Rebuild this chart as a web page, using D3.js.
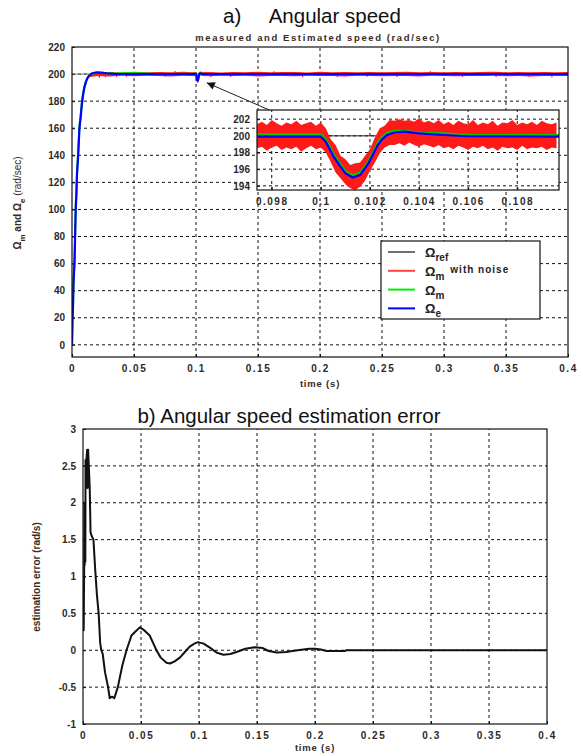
<!DOCTYPE html>
<html>
<head>
<meta charset="utf-8">
<script src="https://cdn.jsdelivr.net/npm/d3@7"></script>
<style>
  body { margin: 0; background: #fff; }
  text { font-family: "Liberation Sans", Arial, sans-serif; }
</style>
</head>
<body>
<div id="chart"></div>
<script>
// ---- data ----
const xTicksMain = [0, 0.05, 0.1, 0.15, 0.2, 0.25, 0.3, 0.35, 0.4]
const yTicksMain = [0, 20, 40, 60, 80, 100, 120, 140, 160, 180, 200, 220]
const insetXTicks = [0.098, 0.1, 0.102, 0.104, 0.106, 0.108]
const insetYTicks = [194, 196, 198, 200, 202]
const errYTicks = [-1, -0.5, 0, 0.5, 1, 1.5, 2, 2.5, 3]

// reference speed
const refT = [0, 0.4]
const refV = [200, 200]

// start-up (rise) of the speeds
const riseT = [0, 0.0004, 0.0008, 0.0012, 0.0016, 0.002, 0.0025, 0.003, 0.0035, 0.004, 0.005, 0.006, 0.007, 0.008, 0.009, 0.010, 0.011, 0.012, 0.013, 0.014, 0.016, 0.018, 0.020, 0.024, 0.028, 0.034, 0.045, 0.055, 0.07, 0.0974]
const riseBlue = [0, 18, 28, 45, 53, 60, 80, 100, 110, 125, 140, 160, 168, 178, 185, 190, 193.5, 196, 197.8, 199, 200.5, 201, 201.2, 201, 200.6, 200.2, 200, 200, 200, 199.9]
const riseGreen = [0, 20, 29, 47, 54, 62, 80, 104, 112, 128, 143, 162, 170, 180, 186, 191, 194, 196.5, 198, 199.2, 200.2, 200.6, 200.8, 200.8, 200.7, 200.5, 200.8, 200.7, 200.1, 200.2]

// load disturbance at t = 0.1 (shown in the zoom)
const dipT = [0.0974, 0.1000, 0.1002, 0.1005, 0.1008, 0.1010, 0.1013, 0.1016, 0.1019, 0.1021, 0.1023, 0.1025, 0.1027, 0.1030, 0.1034, 0.1040, 0.1050, 0.1060, 0.1097]
const dipBlue = [199.9, 199.9, 199.3, 197.6, 196.3, 195.5, 195.0, 195.3, 196.5, 197.6, 198.8, 199.6, 200.1, 200.4, 200.5, 200.3, 200.1, 199.95, 199.9]
const dipGreen = [200.2, 200.2, 199.6, 197.9, 196.6, 195.8, 195.3, 195.6, 196.8, 197.9, 199.1, 199.9, 200.4, 200.6, 200.6, 200.4, 200.3, 200.1, 200.1]

const tailT = [0.1097, 0.2, 0.3, 0.4]
const tailBlue = [199.9, 200, 200, 200]
const tailGreen = [200.1, 200.1, 200.1, 200.1]

// noisy measured speed: band edges in the zoom window
const noiseT = [0.0974, 0.0976, 0.0978, 0.0980, 0.0982, 0.0984, 0.0986, 0.0988, 0.0990, 0.0992, 0.0994, 0.0996, 0.0998, 0.1000,
  0.1002, 0.1004, 0.1006, 0.1008, 0.1010, 0.1012, 0.1014, 0.1016, 0.1018, 0.1020, 0.1022, 0.1024, 0.1026, 0.1028, 0.1030,
  0.1032, 0.1034, 0.1036, 0.1038, 0.1040, 0.1042, 0.1044, 0.1046, 0.1048, 0.1050, 0.1052, 0.1054, 0.1056, 0.1058, 0.1060,
  0.1062, 0.1064, 0.1066, 0.1068, 0.1070, 0.1072, 0.1074, 0.1076, 0.1078, 0.1080, 0.1082, 0.1084, 0.1086, 0.1088, 0.1090,
  0.1092, 0.1094, 0.1096]
const noiseHi = [201.4, 201.7, 201.3, 201.9, 201.5, 201.2, 201.6, 201.4, 201.8, 201.3, 201.5, 201.7, 201.2, 201.6,
  200.9, 199.6, 198.9, 197.6, 197.2, 196.5, 196.7, 196.8, 197.6, 198.4, 199.8, 200.9, 201.2, 201.9, 201.8,
  202.0, 201.8, 201.9, 201.7, 202.1, 201.6, 201.8, 201.5, 201.9, 201.4, 201.7, 201.3, 201.8, 201.5, 201.4,
  201.9, 201.3, 201.6, 201.4, 201.8, 201.2, 201.6, 201.5, 201.9, 201.3, 201.6, 201.4, 201.7, 201.3, 201.8,
  201.5, 201.4, 201.6]
const noiseLo = [198.5, 198.7, 198.2, 198.6, 198.8, 198.3, 198.6, 198.4, 198.7, 198.1, 198.5, 198.8, 198.4, 198.6,
  198.0, 196.9, 195.6, 194.9, 194.2, 193.7, 193.5, 193.9, 194.6, 195.8, 196.8, 197.9, 198.6, 198.9, 198.9,
  199.1, 198.8, 199.2, 198.9, 198.7, 199.0, 198.8, 198.6, 198.9, 198.5, 198.7, 198.4, 198.8, 198.6, 198.3,
  198.7, 198.5, 198.8, 198.4, 198.6, 198.2, 198.7, 198.5, 198.6, 198.3, 198.8, 198.4, 198.6, 198.5, 198.7,
  198.3, 198.6, 198.5]

// noisy measured speed: coarse band over the whole run
const bandT = [0.013, 0.02, 0.03, 0.04, 0.05, 0.06, 0.07, 0.08, 0.09, 0.097, 0.11, 0.12, 0.13, 0.14, 0.15, 0.16, 0.17, 0.18, 0.19, 0.20,
  0.21, 0.22, 0.23, 0.24, 0.25, 0.26, 0.27, 0.28, 0.29, 0.30, 0.31, 0.32, 0.33, 0.34, 0.35, 0.36, 0.37, 0.38, 0.39, 0.40]
const bandHi = [199.5, 201.3, 201.6, 201.2, 201.8, 201.4, 201.5, 201.3, 201.7, 201.4, 201.5, 201.2, 201.6, 201.4, 201.7, 201.3, 201.5, 201.6, 201.2, 201.8,
  201.4, 201.5, 201.3, 201.6, 201.4, 201.5, 201.7, 201.3, 201.5, 201.4, 201.6, 201.3, 201.5, 201.8, 201.4, 201.5, 201.3, 201.6, 201.4, 201.5]
const bandLo = [197.5, 198.6, 198.2, 198.7, 198.4, 198.8, 198.5, 198.3, 198.7, 198.6, 198.4, 198.7, 198.5, 198.8, 198.3, 198.6, 198.5, 198.4, 198.7, 198.5,
  198.6, 198.3, 198.7, 198.5, 198.4, 198.6, 198.5, 198.3, 198.7, 198.5, 198.4, 198.6, 198.5, 198.7, 198.4, 198.6, 198.3, 198.5, 198.6, 198.5]
const spikeT = [0.022, 0.027, 0.036, 0.044, 0.075, 0.083, 0.112, 0.128, 0.163, 0.186, 0.214, 0.238, 0.262, 0.289, 0.315, 0.342, 0.368, 0.387]
const spikeV = [197.2, 197.6, 197.8, 197.9, 198.0, 202.2, 197.8, 197.9, 202.0, 197.7, 197.9, 198.0, 197.8, 202.1, 197.9, 197.8, 198.0, 197.7]

// estimation error
const errT = [0, 0.0006, 0.0010, 0.0012, 0.0014, 0.0017, 0.0020, 0.0022, 0.0026, 0.0030, 0.0036, 0.0040, 0.0044, 0.0050, 0.0058, 0.0065, 0.0075,
  0.0090, 0.0105, 0.0120, 0.0135, 0.0148, 0.0158, 0.0170, 0.0190, 0.0216, 0.0230, 0.0250, 0.0270, 0.0300, 0.0340, 0.0375, 0.0418, 0.0450,
  0.0490, 0.0520, 0.0575, 0.0610, 0.0633, 0.0670, 0.0720, 0.0750, 0.0790, 0.0835, 0.0880, 0.0920, 0.0960, 0.0990, 0.1040, 0.1100, 0.1150,
  0.1210, 0.1270, 0.1330, 0.1400, 0.1480, 0.1550, 0.1600, 0.1670, 0.1750, 0.1850, 0.1950, 0.2000, 0.2050, 0.2100, 0.2260, 0.2265, 0.4000]
const errV = [0.27, 0.27, 1.1, 2.0, 1.15, 2.0, 1.2, 2.58, 2.2, 2.6, 2.72, 2.2, 2.72, 2.5, 2.2, 1.6, 1.55,
  1.5, 1.1, 0.75, 0.5, 0.1, 0, -0.05, -0.3, -0.5, -0.65, -0.63, -0.65, -0.5, -0.2, 0, 0.2, 0.25,
  0.31, 0.28, 0.2, 0.08, 0, -0.1, -0.17, -0.18, -0.15, -0.1, -0.02, 0.05, 0.09, 0.11, 0.09, 0.03, -0.03,
  -0.06, -0.05, -0.02, 0.02, 0.04, 0.03, -0.01, -0.03, -0.025, 0, 0.02, 0.02, 0.01, -0.01, -0.01, 0, 0]

const legendNames = ['ref', 'm', 'm', 'e']
const legendExtra = ['', 'with noise', '', '']
const legendColors = ['#707070', '#ff4040', '#00ee00', '#0000ff']

// ---- layout ----
const width = 583
const height = 756
const tickColor = '#2a2a2a'

const svg = d3.select('#chart').append('svg')
  .attr('width', width)
  .attr('height', height)

const defs = svg.append('defs')

const zip = (t, v) => t.map((d, i) => [d, v[i]])

// framed axes with dashed grid, MATLAB style
function frame(g, x, y, xt, yt, id, fs) {
  const [x0, x1] = x.range()
  const [y0, y1] = y.range()   // y0 bottom, y1 top
  g.append('rect')
    .attr('x', x0).attr('y', y1)
    .attr('width', x1 - x0).attr('height', y0 - y1)
    .attr('fill', '#fff')

  defs.append('clipPath').attr('id', id)
    .append('rect')
    .attr('x', x0).attr('y', y1)
    .attr('width', x1 - x0).attr('height', y0 - y1)

  const grid = g.append('g').attr('stroke', '#111').attr('stroke-width', 1).attr('stroke-dasharray', '3,3')
  grid.selectAll('.gx').data(xt.filter(d => x(d) > x0 + 1 && x(d) < x1 - 1)).join('line')
    .attr('x1', d => x(d)).attr('x2', d => x(d))
    .attr('y1', y0).attr('y2', y1)
  grid.selectAll('.gy').data(yt.filter(d => y(d) < y0 - 1 && y(d) > y1 + 1)).join('line')
    .attr('y1', d => y(d)).attr('y2', d => y(d))
    .attr('x1', x0).attr('x2', x1)

  const fmt = d => String(+d.toFixed(3))
  const ax = g.append('g')
    .attr('transform', `translate(0,${y0})`)
    .call(d3.axisBottom(x).tickValues(xt).tickFormat(fmt).tickSize(-3).tickSizeOuter(0).tickPadding(8))
  const ay = g.append('g')
    .attr('transform', `translate(${x0},0)`)
    .call(d3.axisLeft(y).tickValues(yt).tickFormat(fmt).tickSize(-3).tickSizeOuter(0).tickPadding(7))
  for (const a of [ax, ay]) {
    a.select('.domain').remove()
    a.selectAll('line').attr('stroke', '#111')
    a.selectAll('text')
      .attr('fill', tickColor)
      .attr('font-size', fs)
      .attr('font-weight', 'bold')
      .attr('font-family', '"Liberation Sans", Arial, sans-serif')
  }
  ax.selectAll('text').attr('letter-spacing', '1.5px')
  return g
}

function border(g, x, y) {
  const [x0, x1] = x.range()
  const [y0, y1] = y.range()
  g.append('rect')
    .attr('x', x0).attr('y', y1)
    .attr('width', x1 - x0).attr('height', y0 - y1)
    .attr('fill', 'none').attr('stroke', '#111').attr('stroke-width', 1.2)
}

// ================= a) angular speed =================
svg.append('text')
  .attr('x', 312).attr('y', 23)
  .attr('text-anchor', 'middle')
  .attr('font-size', 20.5)
  .attr('fill', '#111')
  .attr('xml:space', 'preserve')
  .text('a)     Angular speed')

svg.append('text')
  .attr('x', 318).attr('y', 41)
  .attr('text-anchor', 'middle')
  .attr('font-size', 9.5)
  .attr('font-weight', 'bold')
  .attr('letter-spacing', '1.6px')
  .attr('fill', '#3a2a22')
  .text('measured and Estimated speed (rad/sec)')

const xA = d3.scaleLinear([0, 0.4], [72, 568])
const yA = d3.scaleLinear([-9, 220], [357, 47])

const gA = svg.append('g')
frame(gA, xA, yA, xTicksMain, yTicksMain, 'clipA', 10)

const lineA = d3.line().x(d => xA(d[0])).y(d => yA(d[1]))
const areaA = d3.area().x(d => xA(d[0])).y0(d => yA(d[1])).y1(d => yA(d[2]))

// merge coarse band with the fine one around the disturbance
const bandA = bandT.map((t, i) => [t, bandLo[i], bandHi[i]])
  .filter(d => d[0] < noiseT[0] || d[0] > noiseT[noiseT.length - 1])
  .concat(noiseT.map((t, i) => [t, noiseLo[i], noiseHi[i]]))
  .sort((a, b) => a[0] - b[0])

const blueAll = zip(riseT, riseBlue).concat(zip(dipT, dipBlue).slice(1), zip(tailT, tailBlue).slice(1))
const greenAll = zip(riseT, riseGreen).concat(zip(dipT, dipGreen).slice(1), zip(tailT, tailGreen).slice(1))

const plotA = gA.append('g').attr('clip-path', 'url(#clipA)')
plotA.append('path').datum(zip(refT, refV)).attr('d', lineA)
  .attr('fill', 'none').attr('stroke', legendColors[0]).attr('stroke-width', 1)
plotA.append('path').datum(bandA).attr('d', areaA)
  .attr('fill', '#ff1a1a')
plotA.selectAll('.spike').data(zip(spikeT, spikeV)).join('line')
  .attr('x1', d => xA(d[0])).attr('x2', d => xA(d[0]))
  .attr('y1', yA(200)).attr('y2', d => yA(d[1]))
  .attr('stroke', '#ff1a1a').attr('stroke-width', 1.2)
plotA.append('path').datum(greenAll).attr('d', lineA)
  .attr('fill', 'none').attr('stroke', '#00dd00').attr('stroke-width', 2)
plotA.append('path').datum(blueAll).attr('d', lineA)
  .attr('fill', 'none').attr('stroke', '#0000ff').attr('stroke-width', 2.2)
border(gA, xA, yA)

// axis titles
svg.append('text')
  .attr('x', 320).attr('y', 387)
  .attr('text-anchor', 'middle')
  .attr('font-size', 9.5).attr('font-weight', 'bold')
  .attr('letter-spacing', '0.8px')
  .attr('fill', '#3a2a22')
  .text('time (s)')

const yLabA = svg.append('text')
  .attr('transform', 'translate(21,203) rotate(-90)')
  .attr('text-anchor', 'middle')
  .attr('font-size', 10).attr('font-weight', 'bold')
  .attr('fill', '#3a2a22')
yLabA.append('tspan').text('Ω')
yLabA.append('tspan').attr('dy', 4).attr('font-size', 8).text('m')
yLabA.append('tspan').attr('dy', -4).text(' and Ω')
yLabA.append('tspan').attr('dy', 4).attr('font-size', 8).text('e')
yLabA.append('tspan').attr('dy', -4).attr('font-weight', 'normal').text('  (rad/sec)')

// ---- zoom window ----
const xI = d3.scaleLinear([0.0974, 0.1097], [257, 559])
const yI = d3.scaleLinear([193.5, 203.1], [190, 110])
const gI = svg.append('g')
frame(gI, xI, yI, insetXTicks, insetYTicks, 'clipI', 10)

const lineI = d3.line().x(d => xI(d[0])).y(d => yI(d[1]))
const areaI = d3.area().x(d => xI(d[0])).y0(d => yI(d[1])).y1(d => yI(d[2]))
const plotI = gI.append('g').attr('clip-path', 'url(#clipI)')
plotI.append('path').datum(zip(refT, refV)).attr('d', lineI)
  .attr('fill', 'none').attr('stroke', '#222').attr('stroke-width', 1)
plotI.append('path').datum(noiseT.map((t, i) => [t, noiseLo[i], noiseHi[i]])).attr('d', areaI)
  .attr('fill', '#ff1a1a')
plotI.append('path').datum(zip(dipT, dipGreen)).attr('d', lineI)
  .attr('fill', 'none').attr('stroke', '#00cc00').attr('stroke-width', 2)
plotI.append('path').datum(zip(dipT, dipBlue)).attr('d', lineI)
  .attr('fill', 'none').attr('stroke', '#0000ff').attr('stroke-width', 2.2)
border(gI, xI, yI)

// arrow from the zoom window to the disturbance
defs.append('marker')
  .attr('id', 'arrow')
  .attr('viewBox', '0 0 10 10')
  .attr('refX', 10).attr('refY', 5)
  .attr('markerUnits', 'userSpaceOnUse')
  .attr('markerWidth', 13).attr('markerHeight', 8)
  .attr('orient', 'auto')
  .append('path').attr('d', 'M0,0L10,5L0,10z').attr('fill', '#111')

svg.append('line')
  .attr('x1', xI(0.0979)).attr('y1', yI(203.1))
  .attr('x2', xA(0.1087)).attr('y2', yA(193.6))
  .attr('stroke', '#222').attr('stroke-width', 1)
  .attr('marker-end', 'url(#arrow)')

// ---- legend ----
const leg = svg.append('g').attr('transform', 'translate(381,241)')
leg.append('rect').attr('width', 159).attr('height', 78)
  .attr('fill', '#fff').attr('stroke', '#111').attr('stroke-width', 1.2)
const rows = leg.selectAll('.row').data(legendNames).join('g')
  .attr('transform', (d, i) => `translate(0,${11 + i * 18.8})`)
rows.append('line')
  .attr('x1', 7).attr('x2', 34)
  .attr('stroke', (d, i) => legendColors[i]).attr('stroke-width', 2)
const lt = rows.append('text')
  .attr('x', 44).attr('y', 5)
  .attr('font-size', 13).attr('font-weight', 'bold').attr('fill', '#222')
lt.append('tspan').text('Ω')
lt.append('tspan').attr('dy', 4).attr('font-size', 10).text(d => d)
lt.append('tspan').attr('dx', 6).attr('dy', -7)
  .attr('font-size', 10).attr('letter-spacing', '1px')
  .text((d, i) => legendExtra[i])

// ================= b) estimation error =================
svg.append('text')
  .attr('x', 289).attr('y', 423)
  .attr('text-anchor', 'middle')
  .attr('font-size', 20.5)
  .attr('fill', '#111')
  .text('b) Angular speed estimation error')

const xB = d3.scaleLinear([0, 0.4], [83, 547])
const yB = d3.scaleLinear([-1, 3], [724, 429])
const gB = svg.append('g')
frame(gB, xB, yB, xTicksMain, errYTicks, 'clipB', 10)

const lineB = d3.line().x(d => xB(d[0])).y(d => yB(d[1]))
gB.append('g').attr('clip-path', 'url(#clipB)')
  .append('path').datum(zip(errT, errV)).attr('d', lineB)
  .attr('fill', 'none').attr('stroke', '#111').attr('stroke-width', 2)
  .attr('stroke-linejoin', 'round')
border(gB, xB, yB)

svg.append('text')
  .attr('x', 315).attr('y', 751)
  .attr('text-anchor', 'middle')
  .attr('font-size', 9.5).attr('font-weight', 'bold')
  .attr('letter-spacing', '0.8px')
  .attr('fill', '#3a2a22')
  .text('time (s)')

svg.append('text')
  .attr('transform', 'translate(40,577) rotate(-90)')
  .attr('text-anchor', 'middle')
  .attr('font-size', 10).attr('font-weight', 'bold')
  .attr('fill', '#3a2a22')
  .text('estimation error (rad/s)')
</script>
</body>
</html>
